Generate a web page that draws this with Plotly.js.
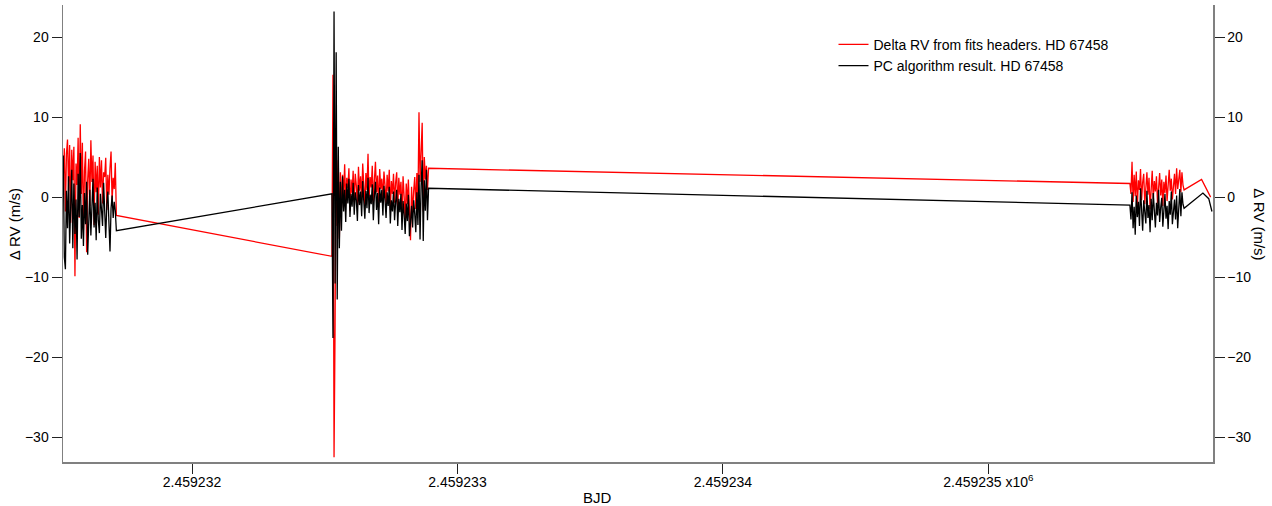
<!DOCTYPE html>
<html>
<head>
<meta charset="utf-8">
<script src="https://cdn.plot.ly/plotly-3.0.1.min.js"></script>
<style>
  html, body { margin: 0; padding: 0; background: #fff; }
  #chart { width: 1272px; height: 506px; }
</style>
</head>
<body>
<div id="chart"></div>
<script>
// ---- Data ----
// Night 1 exposure times (BJD)
var bjdNight1 = [
  2459231.515, 2459231.519, 2459231.523, 2459231.527, 2459231.531, 2459231.535, 2459231.539, 2459231.543, 2459231.547, 2459231.551,
  2459231.555, 2459231.559, 2459231.563, 2459231.567, 2459231.571, 2459231.575, 2459231.579, 2459231.583, 2459231.587, 2459231.591,
  2459231.595, 2459231.599, 2459231.603, 2459231.607, 2459231.611, 2459231.615, 2459231.619, 2459231.623, 2459231.627, 2459231.631,
  2459231.635, 2459231.639, 2459231.643, 2459231.647, 2459231.651, 2459231.655, 2459231.659, 2459231.663, 2459231.667, 2459231.671,
  2459231.675, 2459231.679, 2459231.683, 2459231.687, 2459231.691, 2459231.695, 2459231.699, 2459231.703, 2459231.707, 2459231.711,
  2459231.715
];
var rvHeaderNight1 = [
  2.5, 6.1, -1.8, 5.4, 7.2, 0.8, 6.5, -3.2, 5.9, 2.1,
  6.3, -9.9, 4.2, 1.5, 7.4, -2.6, 9.1, 0.4, 6.8, -4.1,
  3.3, 5.7, -6.9, 2.2, 4.8, -1.1, 7.1, 1.9, 5.2, -3.5,
  4.4, 0.6, 3.9, -2.2, 5.0, 1.2, 4.6, -0.8, 3.1, 2.5,
  4.9, -1.6, 2.8, 0.3, 3.6, 5.7, -0.5, 2.4, 1.0, 4.3,
  -2.3
];
var rvPCNight1 = [
  5.2, -7.5, -9.0, 0.8, -3.9, 2.6, -5.8, -1.2, 3.4, -6.4,
  1.7, -4.6, -0.3, -7.8, 2.9, -2.5, 5.5, -5.2, -1.0, -6.1,
  0.5, -3.4, 1.9, -7.2, -2.2, 0.9, -4.8, -1.5, 2.3, -3.8,
  -0.7, -5.4, 1.2, -2.9, -4.5, 0.4, -1.9, -3.6, 1.8, -2.4,
  -5.1, -0.9, 0.7, -3.2, -6.8, -1.4, 0.2, -2.6, -0.6, -1.7,
  -4.2
];

// Night 2 exposure times (BJD)
var bjdNight2 = [
  2459232.527, 2459232.531, 2459232.535, 2459232.539, 2459232.543, 2459232.547, 2459232.551, 2459232.555, 2459232.559, 2459232.563,
  2459232.567, 2459232.571, 2459232.575, 2459232.579, 2459232.583, 2459232.587, 2459232.591, 2459232.595, 2459232.599, 2459232.603,
  2459232.607, 2459232.611, 2459232.615, 2459232.619, 2459232.623, 2459232.627, 2459232.631, 2459232.635, 2459232.639, 2459232.643,
  2459232.647, 2459232.651, 2459232.655, 2459232.659, 2459232.663, 2459232.667, 2459232.671, 2459232.675, 2459232.679, 2459232.683,
  2459232.687, 2459232.691, 2459232.695, 2459232.699, 2459232.703, 2459232.707, 2459232.711, 2459232.715, 2459232.719, 2459232.723,
  2459232.727, 2459232.731, 2459232.735, 2459232.739, 2459232.743, 2459232.747, 2459232.751, 2459232.755, 2459232.759, 2459232.763,
  2459232.767, 2459232.771, 2459232.775, 2459232.779, 2459232.783, 2459232.787, 2459232.791, 2459232.795, 2459232.799, 2459232.803,
  2459232.807, 2459232.811, 2459232.815, 2459232.819, 2459232.823, 2459232.827, 2459232.831, 2459232.835, 2459232.839, 2459232.843,
  2459232.847, 2459232.851, 2459232.855, 2459232.859, 2459232.863, 2459232.867, 2459232.871, 2459232.875, 2459232.879, 2459232.883,
  2459232.887, 2459232.891
];
var rvHeaderNight2 = [
  -7.4, 15.3, -32.5, -15.8, 8.4, -3.6, 4.6, -5.2, 3.1, -1.4,
  2.8, 0.2, 4.1, -0.9, 2.4, 1.1, 3.6, -1.7, 2.2, 0.5,
  3.3, -0.6, 2.9, 1.4, -1.2, 3.8, 0.8, 2.6, -0.4, 4.2,
  1.6, -1.1, 3.0, 0.9, 5.4, -0.3, 2.5, 1.2, 3.9, -0.8,
  2.1, 4.4, 0.6, 2.7, -1.3, 3.5, 1.0, 2.3, -0.2, 3.2,
  1.5, -0.9, 2.8, 0.7, 3.4, -1.6, 2.0, 0.4, 2.9, -0.7,
  1.8, 3.1, -1.4, 2.4, 0.3, 1.9, -2.1, 2.6, 0.1, -2.8,
  1.7, -0.9, 2.2, -3.1, -5.4, 1.3, -2.0, 0.8, 2.5, -1.5,
  3.0, -0.6, 10.6, 1.9, 4.8, 9.3, -1.8, 5.0, 2.2, 3.9,
  0.9, 3.6
];
var rvPCNight2 = [
  0.4, -17.6, 23.2, -10.8, 18.1, -12.8, 6.3, -6.4, 1.9, -4.2,
  2.6, -1.8, 0.9, -3.1, 1.7, -0.8, 2.3, -2.5, 0.4, -1.2,
  1.8, -2.2, 0.6, -0.4, -3.0, 1.5, -1.0, 0.7, -2.4, 2.0,
  -0.5, -2.7, 0.8, -1.4, 2.4, -2.0, 0.3, -0.9, 1.6, -2.9,
  0.2, 1.9, -1.6, 0.5, -3.4, 1.2, -0.7, 0.9, -2.3, 1.4,
  -0.3, -2.6, 0.6, -1.1, 1.3, -3.3, -0.4, -1.8, 0.7, -2.9,
  -0.6, 0.9, -3.6, -0.2, -1.9, 0.4, -4.1, -0.5, -2.2, -4.6,
  -0.8, -3.0, 0.3, -4.9, -3.2, -1.1, -3.8, -0.4, -2.1, -4.4,
  0.6, -3.5, 2.8, -5.3, 1.4, 4.6, -5.5, 2.1, -1.7, 3.4,
  -2.9, 1.1
];

// Night 3 exposure times (BJD)
var bjdNight3 = [
  2459235.533, 2459235.537, 2459235.541, 2459235.545, 2459235.549, 2459235.553, 2459235.557, 2459235.561, 2459235.565, 2459235.569,
  2459235.573, 2459235.577, 2459235.581, 2459235.585, 2459235.589, 2459235.593, 2459235.597, 2459235.601, 2459235.605, 2459235.609,
  2459235.613, 2459235.617, 2459235.621, 2459235.625, 2459235.629, 2459235.633, 2459235.637, 2459235.641, 2459235.645, 2459235.649,
  2459235.653, 2459235.657, 2459235.661, 2459235.665, 2459235.669, 2459235.673, 2459235.677, 2459235.681, 2459235.685, 2459235.689,
  2459235.693, 2459235.697, 2459235.701, 2459235.705, 2459235.709, 2459235.713, 2459235.717, 2459235.721, 2459235.725, 2459235.729,
  2459235.733, 2459235.737
];
var rvHeaderNight3 = [
  1.7, 0.4, 4.4, -0.6, 2.8, 0.1, 3.2, -1.2, 2.1, 0.9,
  3.5, -0.4, 1.8, 2.9, -0.9, 1.2, 3.1, 0.3, 2.4, -1.5,
  1.6, 3.3, -0.2, 2.0, 0.7, 2.6, -0.8, 1.4, 3.0, 0.2,
  2.2, -1.1, 1.9, 0.5, 2.7, -0.5, 1.3, 3.4, 0.8, 2.3,
  -0.3, 1.7, 2.9, 0.4, 3.6, 1.0, 2.5, 3.4, 0.6, 3.1,
  1.5, 0.9
];
var rvPCNight3 = [
  -1.0, -2.8, 0.6, -3.9, -1.2, -4.7, 0.2, -2.5, -0.6, -3.6,
  1.1, -2.1, -4.2, -0.4, -1.8, -3.3, 0.8, -2.6, -1.0, -4.4,
  -0.2, -2.9, 0.5, -1.6, -3.8, -0.7, -2.3, 0.9, -3.1, -1.3,
  -0.1, -3.7, -1.9, 0.4, -2.7, -1.1, -4.0, -0.5, -2.2, 0.7,
  -3.4, -1.5, -0.3, -2.8, 0.2, -3.9, -1.2, 1.0, -2.4, 0.6,
  -0.9, -1.4
];

// Last few points at the right edge
var bjdTailHeader = [2459235.803, 2459235.837];
var rvTailHeader = [2.2, 0.0];
var bjdTailPC = [2459235.808, 2459235.830, 2459235.842];
var rvTailPC = [0.5, -0.2, -1.8];

// Axis ticks
var xTickVals = [2459232, 2459233, 2459234, 2459235];
var xTickText = ['2.459232', '2.459233', '2.459234', '2.459235 x10<sup>6</sup>'];
var yTickVals = [20, 10, 0, -10, -20, -30];

var seriesNames = ['Delta RV from fits headers. HD 67458', 'PC algorithm result. HD 67458'];

// ---- Build traces ----
var xHeader = bjdNight1.concat(bjdNight2, bjdNight3, bjdTailHeader);
var yHeader = rvHeaderNight1.concat(rvHeaderNight2, rvHeaderNight3, rvTailHeader);
var xPC = bjdNight1.concat(bjdNight2, bjdNight3, bjdTailPC);
var yPC = rvPCNight1.concat(rvPCNight2, rvPCNight3, rvTailPC);

var FONT = 'Liberation Sans, Arial, Helvetica, sans-serif';

var traces = [
  {
    x: xHeader, y: yHeader, type: 'scatter', mode: 'lines',
    name: seriesNames[0],
    line: { color: '#ff0000', width: 1.3 },
    hoverinfo: 'skip'
  },
  {
    // drawn against the right-hand axis, which shares the same range
    x: xPC, y: yPC, type: 'scatter', mode: 'lines',
    name: seriesNames[1],
    yaxis: 'y2',
    line: { color: '#000000', width: 1.3 },
    hoverinfo: 'skip'
  }
];

var yRange = [-33.1, 24];

var axisStyle = {
  ticks: 'outside',
  ticklen: 10,
  tickwidth: 1,
  tickcolor: '#222',
  showline: true,
  linecolor: '#808080',
  linewidth: 1.5,
  showgrid: false,
  zeroline: false,
  tickfont: { family: FONT, size: 14, color: '#000' }
};

var layout = {
  width: 1272,
  height: 506,
  margin: { l: 63, r: 59, t: 5, b: 44, pad: 0 },
  paper_bgcolor: '#ffffff',
  plot_bgcolor: '#ffffff',
  font: { family: FONT, size: 14, color: '#000' },
  showlegend: true,
  legend: {
    x: 0.67, xanchor: 'left',
    y: 0.948, yanchor: 'top',
    bgcolor: 'rgba(0,0,0,0)',
    borderwidth: 0,
    font: { family: FONT, size: 14, color: '#000' },
    tracegroupgap: 0
  },
  xaxis: Object.assign({
    range: [2459231.514, 2459235.846],
    tickmode: 'array',
    tickvals: xTickVals,
    ticktext: xTickText,
    ticklabelstandoff: -3
  }, axisStyle),
  yaxis: Object.assign({
    range: yRange,
    tickmode: 'array',
    tickvals: yTickVals
  }, axisStyle),
  yaxis2: Object.assign({
    overlaying: 'y',
    side: 'right',
    range: yRange,
    tickmode: 'array',
    tickvals: yTickVals
  }, axisStyle),
  annotations: [
    {
      text: 'BJD', xref: 'paper', yref: 'paper', x: 0.4652, y: 0,
      xanchor: 'center', yanchor: 'middle', yshift: -35, showarrow: false,
      font: { family: FONT, size: 15, color: '#000' }
    },
    {
      text: '\u0394 RV (m/s)', xref: 'paper', yref: 'paper', x: 0, y: 0.52,
      xanchor: 'center', yanchor: 'middle', xshift: -49, textangle: -90, showarrow: false,
      font: { family: FONT, size: 15, color: '#000' }
    },
    {
      text: '\u0394 RV (m/s)', xref: 'paper', yref: 'paper', x: 1, y: 0.52,
      xanchor: 'center', yanchor: 'middle', xshift: 47, textangle: 90, showarrow: false,
      font: { family: FONT, size: 15, color: '#000' }
    }
  ]
};

Plotly.newPlot('chart', traces, layout, { staticPlot: true, displayModeBar: false });
</script>
</body>
</html>
